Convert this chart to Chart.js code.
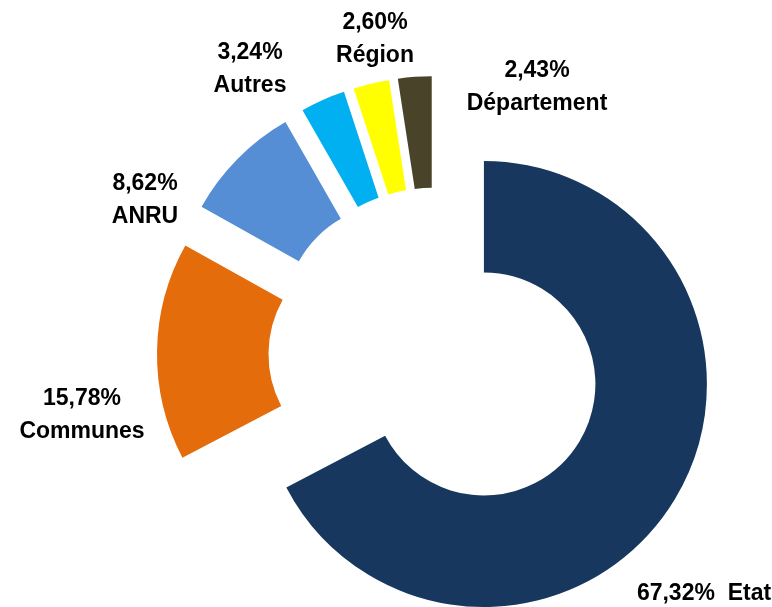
<!DOCTYPE html>
<html>
<head>
<meta charset="utf-8">
<script src="https://cdn.jsdelivr.net/npm/chart.js@4"></script>
<style>
    body { margin: 0; background: #ffffff; }
    canvas { display: block; }
</style>
</head>
<body>
<canvas id="financeurs" width="772" height="607"></canvas>
<script>
// Répartition des financements (%)
const categories = ['Etat', 'Communes', 'ANRU', 'Autres', 'Région', 'Département'];
const shares = [67.32, 15.78, 8.62, 3.24, 2.60, 2.43];
const colors = ['#17375E', '#E46C0A', '#558ED5', '#00B0F0', '#FFFF00', '#494429'];

// Label placement, relative to the doughnut centre (manual, like the original)
const labelOffsets = [
    [268, 239], [-354, 60], [-291, -155], [-186, -286], [-61, -316], [101, -268]
];
const singleLine = [true, false, false, false, false, false];

const EXPLODE = 56;
const LINE_H = 33;
const FONT = 'bold 23px "Liberation Sans", Arial, sans-serif';

function fmt(v) {
    return v.toFixed(2).replace('.', ',') + '%';
}

// Pull every slice out along its middle angle
const explodePlugin = {
    id: 'explode',
    afterDatasetsUpdate(chart) {
        chart.getDatasetMeta(0).data.forEach(arc => {
            const mid = (arc.startAngle + arc.endAngle) / 2;
            arc.x += Math.cos(mid) * EXPLODE;
            arc.y += Math.sin(mid) * EXPLODE;
        });
    }
};

// Data labels
const labelPlugin = {
    id: 'sliceLabels',
    afterDraw(chart) {
        const ctx = chart.ctx;
        const area = chart.chartArea;
        const cx = (area.left + area.right) / 2;
        const cy = (area.top + area.bottom) / 2;
        ctx.save();
        ctx.font = FONT;
        ctx.fillStyle = '#000000';
        ctx.textAlign = 'center';
        ctx.textBaseline = 'middle';
        categories.forEach((name, i) => {
            const x = cx + labelOffsets[i][0];
            const y = cy + labelOffsets[i][1];
            const pct = fmt(shares[i]);
            if (singleLine[i]) {
                ctx.fillText(pct + '  ' + name, x, y);
            } else {
                ctx.fillText(pct, x, y - LINE_H / 2);
                ctx.fillText(name, x, y + LINE_H / 2);
            }
        });
        ctx.restore();
    }
};

new Chart(document.getElementById('financeurs'), {
    type: 'doughnut',
    data: {
        labels: categories,
        datasets: [{
            data: shares,
            backgroundColor: colors,
            borderWidth: 0
        }]
    },
    options: {
        responsive: false,
        animation: false,
        cutout: '50%',
        layout: {
            padding: { left: 213, right: 113, top: 132, bottom: 29 }
        },
        plugins: {
            legend: { display: false },
            tooltip: { enabled: false }
        }
    },
    plugins: [explodePlugin, labelPlugin]
});
</script>
</body>
</html>
